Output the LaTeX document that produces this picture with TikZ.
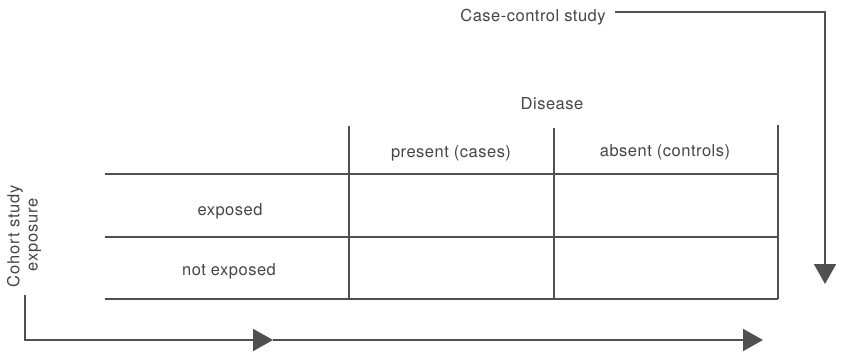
\documentclass[tikz,border=0pt]{standalone}
\usepackage{fontspec}
\setmainfont{TeX Gyre Heros}[LetterSpace=3]
\newfontfamily\sidefont{TeX Gyre Heros}[LetterSpace=5]
\usetikzlibrary{arrows.meta}
\definecolor{ink}{HTML}{505050}
\definecolor{txt}{HTML}{454545}
\begin{document}
\begin{tikzpicture}[x=1pt,y=-1pt,
  rule/.style={draw=ink,line width=1.6pt},
  label/.style={text=txt,font=\fontsize{16.5}{19}\selectfont,inner sep=0pt},
  sidelabel/.style={text=txt,font=\sidefont\fontsize{16.5}{19}\selectfont,inner sep=0pt,rotate=90},
  flow/.style={draw=ink,line width=1.8pt,-{Triangle[length=20pt,width=22pt]}}]
\useasboundingbox (0,0) rectangle (842,353);

% table grid
\coordinate (h1l) at (105,174);  \coordinate (h1r) at (778,174);
\coordinate (h2l) at (105,237);  \coordinate (h2r) at (778,237);
\coordinate (h3l) at (105,299);  \coordinate (h3r) at (778,299);
\coordinate (v1t) at (349,126);  \coordinate (v1b) at (349,299);
\coordinate (v2t) at (554,128);  \coordinate (v2b) at (554,299);
\coordinate (v3t) at (778,125);  \coordinate (v3b) at (778,299);
\draw[rule] (h1l) -- (h1r);
\draw[rule] (h2l) -- (h2r);
\draw[rule] (h3l) -- (h3r);
\draw[rule] (v1t) -- (v1b);
\draw[rule] (v2t) -- (v2b);
\draw[rule] (v3t) -- (v3b);

% headings and row labels
\node[label] (disease) at (552,104) {Disease};
\node[label] (present) at (451,153) {present (cases)};
\node[label] (absent)  at (665,152) {absent (controls)};
\node[label] (exposed) at (230,211) {exposed};
\node[label] (notexp)  at (229,271) {not exposed};
\node[sidelabel] (cohort)   at (15,236) {Cohort study};
\node[sidelabel] (exposure) at (35,235) {exposure};

% case-control direction
\node[label] (casecontrol) at (533,17) {Case-control study};
\coordinate (ccstart) at (615,12);
\coordinate (ccend) at (825,284);
\draw[flow] (ccstart) -| (ccend);

% cohort direction
\coordinate (costart) at (25,295);
\coordinate (comid) at (273,340);
\coordinate (coend) at (763,340);
\draw[flow] (costart) |- (comid);
\draw[flow] (comid) -- (coend);
\end{tikzpicture}
\end{document}
